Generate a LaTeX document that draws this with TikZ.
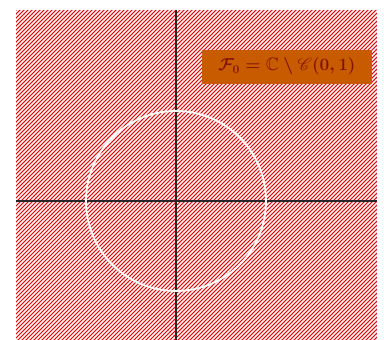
\documentclass[tikz,border=0pt]{standalone}
\usepackage{amssymb}
\usepackage{mathrsfs}
\usetikzlibrary{patterns.meta}
\definecolor{hatchred}{RGB}{225,0,0}
\definecolor{labelbg}{RGB}{200,90,0}
\definecolor{labeltext}{RGB}{130,20,0}
\newcommand{\labfont}{\fontsize{18pt}{21pt}\selectfont\boldmath}
\tikzset{
  region/.style={fill=hatchred},
  hatch/.style={pattern={Lines[angle=45,distance=2.8284pt,line width=1.45pt]},pattern color=white},
  axis/.style={draw=black!85,line width=1.3pt},
  unitcircle/.style={draw=white,line width=1.8pt},
  labelbox/.style={fill=labelbg,text=labeltext,inner sep=0pt,minimum width=170pt,minimum height=34pt,font=\labfont}
}
\begin{document}
\begin{tikzpicture}[x=1pt,y=-1pt]
\useasboundingbox (0,0) rectangle (384,340);
\fill[white] (0,0) rectangle (384,340);
\fill[region] (16,10) rectangle (377,340);
\fill[hatch] (16,10) rectangle (377,340);
\coordinate (o) at (176,201);
\coordinate (xl) at (16,201);
\coordinate (xr) at (377,201);
\coordinate (yt) at (176,10);
\coordinate (yb) at (176,340);
\draw[axis] (xl) -- (xr);
\draw[axis] (yt) -- (yb);
\draw[unitcircle] (o) circle[radius=90];
\node[labelbox] (lab) at (287,66.5) {$\mathcal{F}_0=\mathbb{C}\setminus\mathscr{C}(0,1)$};
\end{tikzpicture}
\end{document}
